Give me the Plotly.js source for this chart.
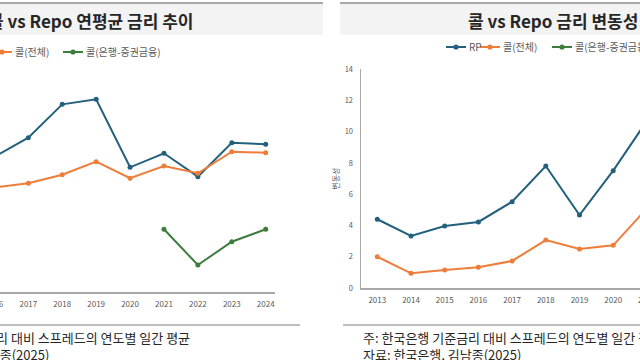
<!DOCTYPE html>
<html><head><meta charset="utf-8">
<script src="https://cdn.plot.ly/plotly-3.0.1.min.js"></script>
<style>
html,body{margin:0;padding:0;width:640px;height:360px;overflow:hidden;background:#fff;}
#a{position:absolute;left:-200px;top:0;width:530px;height:360px;}
#b{position:absolute;left:330px;top:0;width:500px;height:360px;}
</style></head><body>
<div id="a"></div><div id="b"></div>
<script>
// ---- Left chart: 콜 vs Repo 연평균 금리 추이 (visible years only) ----
const yearsLeft = [2016, 2017, 2018, 2019, 2020, 2021, 2022, 2023, 2024];
const rpAvg = [0.17, 2.30, 6.04, 6.60, -1.02, 0.55, -2.07, 1.74, 1.56];
const callAllAvg = [-3.27, -2.81, -1.85, -0.39, -2.25, -0.87, -1.69, 0.73, 0.62];
const yearsBankLeft = [2021, 2022, 2023, 2024];
const callBankAvg = [-7.97, -11.97, -9.36, -7.97];

// ---- Right chart: 콜 vs Repo 금리 변동성 (visible years only) ----
const yearsRight = [2013, 2014, 2015, 2016, 2017, 2018, 2019, 2020, 2021];
const rpVol = [4.40, 3.33, 3.97, 4.23, 5.52, 7.81, 4.67, 7.51, 10.7];
const callAllVol = [2.00, 0.94, 1.15, 1.33, 1.73, 3.07, 2.50, 2.73, 5.1];
const yearsBankRight = [2021];
const callBankVol = [null];

const seriesNames = ['RP', '콜(전체)', '콜(은행-증권금융)'];
const noteLine1 = '주: 한국은행 기준금리 대비 스프레드의 연도별 일간 평균';
const noteLine2 = '자료: 한국은행, 김남종(2025)';
const titleLeft = '콜 vs Repo 연평균 금리 추이';
const titleRight = '콜 vs Repo 금리 변동성';
const yTitleRight = '변동성';

const FONT = '"Noto Sans CJK KR", "Noto Sans", sans-serif';
const COLORS = ['#23607e', '#ee7d3a', '#3c7d3e'];
const H = 360;

function mk(x, y, name, color) {
  return {x: x, y: y, name: name, type: 'scatter', mode: 'lines+markers',
    line: {color: color, width: 2}, marker: {color: color, size: 5},
    connectgaps: false, showlegend: false, cliponaxis: false};
}

function frame(left, width, opts) {
  const fx = p => (p - left) / width;
  const fy = p => 1 - p / H;
  const shapes = [
    {type: 'rect', xref: 'paper', yref: 'paper', x0: fx(opts.boxL), x1: fx(opts.boxR), y0: fy(35), y1: fy(3),
     fillcolor: '#f3f3f3', line: {width: 0}, layer: 'below'},
    {type: 'line', xref: 'paper', yref: 'paper', x0: fx(opts.boxL), x1: fx(opts.boxR), y0: fy(3), y1: fy(3),
     line: {color: '#a9a9a9', width: 2}},
    {type: 'line', xref: 'paper', yref: 'paper', x0: fx(opts.sepL), x1: fx(opts.sepR), y0: fy(325), y1: fy(325),
     line: {color: '#a9a9a9', width: 1.5}}
  ];
  const annotations = [
    {xref: 'paper', yref: 'paper', x: fx(opts.titleX), y: fy(20), xanchor: opts.titleAnchor, yanchor: 'middle',
     text: '<b>' + opts.title + '</b>', showarrow: false, font: {family: FONT, size: 17, color: '#262626'}},
    {xref: 'paper', yref: 'paper', x: fx(opts.noteX), y: fy(345.5), xanchor: opts.noteAnchor, yanchor: 'middle',
     align: 'left', text: noteLine1 + '<br>' + noteLine2, showarrow: false,
     font: {family: FONT, size: 13, color: '#262626'}}
  ];
  // legend key: short line with a dot, then the series name
  opts.legend.forEach((mx, i) => {
    const py = opts.legendY;
    shapes.push({type: 'line', xref: 'paper', yref: 'paper', x0: fx(mx - 10), x1: fx(mx + 10),
      y0: fy(py), y1: fy(py), line: {color: COLORS[i], width: 2}});
    shapes.push({type: 'circle', xref: 'paper', yref: 'paper', x0: fx(mx - 2.6), x1: fx(mx + 2.6),
      y0: fy(py + 2.6), y1: fy(py - 2.6), fillcolor: COLORS[i], line: {width: 0}});
    annotations.push({xref: 'paper', yref: 'paper', x: fx(mx + 11), y: fy(py), xanchor: 'left', yanchor: 'middle',
      text: seriesNames[i], showarrow: false, font: {family: FONT, size: 10, color: '#595959'}});
  });
  return {fx, fy, shapes, annotations};
}

// Left
(function () {
  const L = -200, W = 530;
  const f = frame(L, W, {boxL: -150, boxR: 323, sepL: -134, sepR: 300, titleX: 195, titleAnchor: 'right',
    noteX: 192, noteAnchor: 'right', title: titleLeft, legend: [-34, 2, 73], legendY: 52});
  const data = [
    mk(yearsLeft, rpAvg, seriesNames[0], COLORS[0]),
    mk(yearsLeft, callAllAvg, seriesNames[1], COLORS[1]),
    mk(yearsBankLeft, callBankAvg, seriesNames[2], COLORS[2])
  ];
  const layout = {
    width: W, height: H, margin: {l: 0, r: 0, t: 0, b: 0},
    paper_bgcolor: 'rgba(0,0,0,0)', plot_bgcolor: 'rgba(0,0,0,0)',
    font: {family: FONT, color: '#595959'},
    showlegend: false,
    xaxis: {domain: [f.fx(-117), f.fx(275)], range: [2012.715, 2024.274], tickvals: yearsLeft,
      showline: true, linecolor: '#a9a9a9', linewidth: 1.5, showgrid: false, zeroline: false,
      ticks: '', ticklabelstandoff: 4, tickfont: {size: 8, color: '#595959'}, fixedrange: true},
    yaxis: {domain: [f.fy(292), f.fy(69)], range: [-15, 10], visible: false, fixedrange: true},
    shapes: f.shapes, annotations: f.annotations
  };
  Plotly.newPlot('a', data, layout, {staticPlot: true});
})();

// Right
(function () {
  const L = 330, W = 500;
  const f = frame(L, W, {boxL: 340, boxR: 830, sepL: 343, sepR: 830, titleX: 466, titleAnchor: 'left',
    noteX: 361, noteAnchor: 'left', title: titleRight, legend: [456, 490, 562], legendY: 47});
  const data = [
    mk(yearsRight, rpVol, seriesNames[0], COLORS[0]),
    mk(yearsRight, callAllVol, seriesNames[1], COLORS[1]),
    mk(yearsBankRight, callBankVol, seriesNames[2], COLORS[2])
  ];
  const layout = {
    width: W, height: H, margin: {l: 0, r: 0, t: 0, b: 0},
    paper_bgcolor: 'rgba(0,0,0,0)', plot_bgcolor: 'rgba(0,0,0,0)',
    font: {family: FONT, color: '#595959'},
    showlegend: false,
    xaxis: {domain: [f.fx(361), f.fx(780)], range: [2012.516, 2024.95], tickvals: yearsRight,
      showline: true, linecolor: '#a9a9a9', linewidth: 1.5, showgrid: false, zeroline: false,
      ticks: '', ticklabelstandoff: 4, tickfont: {size: 8, color: '#595959'}, fixedrange: true},
    yaxis: {domain: [f.fy(288), f.fy(69.3)], range: [0, 14], dtick: 2, tick0: 0,
      showline: true, linecolor: '#a9a9a9', linewidth: 1.5, showgrid: false, zeroline: false,
      ticks: '', ticklabelstandoff: 5, tickfont: {size: 7.5, color: '#595959'},
      title: {text: yTitleRight, font: {size: 8, color: '#595959'}, standoff: 6}, fixedrange: true},
    shapes: f.shapes, annotations: f.annotations
  };
  Plotly.newPlot('b', data, layout, {staticPlot: true});
})();
</script>
</body></html>
